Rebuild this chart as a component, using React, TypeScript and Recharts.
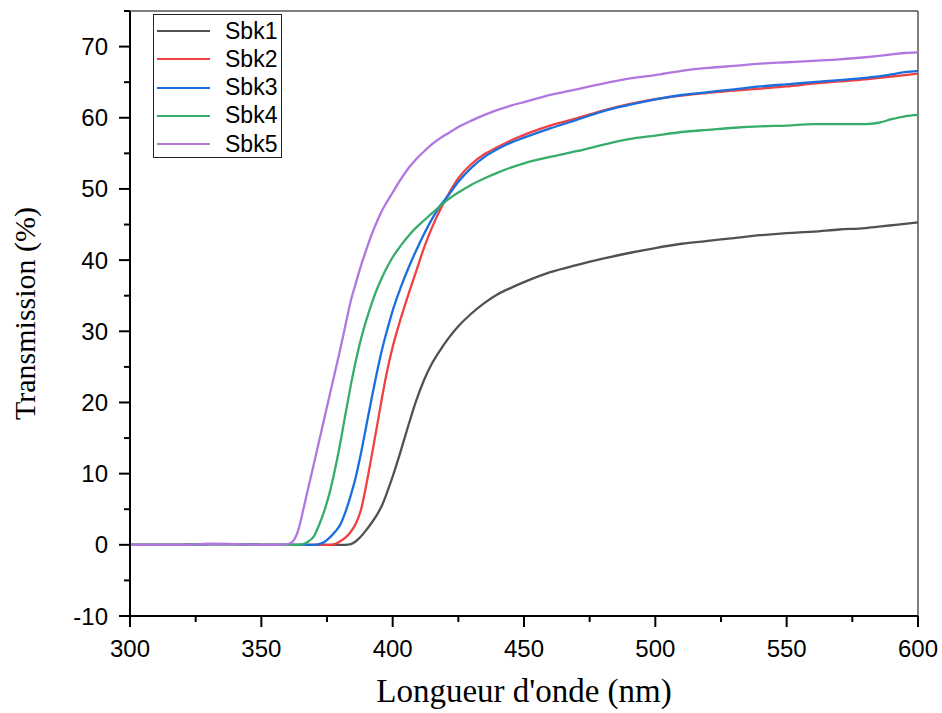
import React from 'react';
import { LineChart, Line, XAxis, YAxis, Legend, Label, ReferenceLine } from 'recharts';

// Wavelength grid (nm)
const wavelength = [
  300, 310, 320, 330, 340, 350, 355, 360, 362, 364, 366, 368, 370, 372, 374, 376, 378, 380,
  382, 384, 386, 388, 390, 392, 394, 396, 398, 400, 403, 406, 409, 412, 415, 418, 421, 425,
  430, 435, 440, 445, 450, 460, 470, 480, 490, 500, 510, 520, 530, 540, 550, 560, 570, 580,
  585, 590, 595, 600,
];

// Transmission (%) of each sample
const sbk1 = [
  0, 0, 0, 0.1, 0.1, 0, 0, 0, 0, 0, 0, 0, 0, 0, 0, 0, 0, 0,
  0, 0.1, 0.5, 1.2, 2.1, 3.1, 4.2, 5.6, 7.5, 9.6, 13.1, 16.8, 20.3, 23.2, 25.5, 27.3, 28.9, 30.7,
  32.5, 34.0, 35.2, 36.1, 36.9, 38.3, 39.3, 40.2, 41.0, 41.7, 42.3, 42.7, 43.1, 43.5, 43.8, 44.0, 44.3, 44.5,
  44.7, 44.9, 45.1, 45.3,
];
const sbk2 = [
  0, 0, 0, 0.1, 0.1, 0, 0, 0, 0, 0, 0, 0, 0, 0, 0, 0, 0.1, 0.5,
  1.0, 1.8, 3.0, 5.0, 8.5, 12.5, 16.6, 20.8, 24.6, 27.8, 31.7, 35.2, 38.5, 41.8, 44.6, 47.0, 49.1, 51.5,
  53.5, 54.9, 55.9, 56.8, 57.6, 58.9, 59.9, 61.0, 61.9, 62.6, 63.1, 63.5, 63.8, 64.1, 64.4, 64.8, 65.1, 65.4,
  65.6, 65.8, 66.0, 66.2,
];
const sbk3 = [
  0, 0, 0, 0.1, 0.1, 0, 0, 0, 0, 0, 0, 0, 0, 0.1, 0.4, 1.0, 1.8, 2.8,
  4.6, 6.9, 9.6, 13.0, 16.8, 20.6, 24.2, 27.5, 30.3, 32.9, 36.1, 38.9, 41.4, 43.7, 45.8, 47.6, 49.0, 51.0,
  53.0, 54.5, 55.6, 56.5, 57.2, 58.5, 59.7, 60.9, 61.8, 62.6, 63.2, 63.6, 64.0, 64.4, 64.7, 65.0, 65.3, 65.6,
  65.8, 66.1, 66.4, 66.6,
];
const sbk4 = [
  0, 0, 0, 0.1, 0.1, 0, 0, 0, 0, 0, 0.1, 0.5, 1.2, 2.8, 4.8, 7.3, 10.5, 14.2,
  18.3, 22.3, 25.9, 29.0, 31.6, 33.9, 35.9, 37.6, 39.1, 40.4, 42.0, 43.4, 44.6, 45.6, 46.6, 47.6, 48.5, 49.5,
  50.6, 51.5, 52.3, 53.0, 53.6, 54.5, 55.3, 56.2, 57.0, 57.5, 58.0, 58.3, 58.6, 58.8, 58.9, 59.1, 59.1, 59.1,
  59.3, 59.8, 60.2, 60.4,
];
const sbk5 = [
  0, 0, 0, 0.15, 0.1, 0, 0, 0.1, 0.5, 2.0, 5.0, 8.2, 11.4, 14.6, 17.8, 21.0, 24.2, 27.4,
  30.8, 34.2, 36.8, 39.3, 41.5, 43.6, 45.4, 47.0, 48.3, 49.5, 51.3, 52.9, 54.2, 55.3, 56.3, 57.1, 57.8, 58.7,
  59.6, 60.4, 61.1, 61.7, 62.2, 63.2, 64.0, 64.8, 65.5, 66.0, 66.6, 67.0, 67.3, 67.6, 67.8, 68.0, 68.2, 68.5,
  68.7, 68.9, 69.1, 69.2,
];

const seriesNames = ['Sbk1', 'Sbk2', 'Sbk3', 'Sbk4', 'Sbk5'];
const seriesValues = [sbk1, sbk2, sbk3, sbk4, sbk5];
const seriesColors = ['#515151', '#F14040', '#1A6FDF', '#37AD6B', '#B177DE'];

const xTicks = [300, 325, 350, 375, 400, 425, 450, 475, 500, 525, 550, 575, 600];
const yTicks = [-10, -5, 0, 5, 10, 15, 20, 25, 30, 35, 40, 45, 50, 55, 60, 65, 70, 75];

const data = wavelength.map((w, i) => {
  const row: Record<string, number> = { w };
  seriesNames.forEach((name, s) => {
    row[name] = seriesValues[s][i];
  });
  return row;
});

const SANS = '"Liberation Sans", Arial, sans-serif';
const SERIF = '"Liberation Serif", "Times New Roman", serif';

const XTick = (props: any) => {
  const { x, y, payload } = props;
  const major = payload.value % 50 === 0;
  return (
    <g>
      <line x1={x} y1={y} x2={x} y2={y + (major ? 11 : 6)} stroke="#000" strokeWidth={2} />
      {major && (
        <text x={x} y={y + 41} textAnchor="middle" fontFamily={SANS} fontSize={24} fill="#000">
          {payload.value}
        </text>
      )}
    </g>
  );
};

const YTick = (props: any) => {
  const { x, y, payload } = props;
  const major = payload.value % 10 === 0;
  return (
    <g>
      <line x1={x} y1={y} x2={x - (major ? 11 : 6)} y2={y} stroke="#000" strokeWidth={2} />
      {major && payload.value <= 70 && (
        <text x={x - 22} y={y + 8.5} textAnchor="end" fontFamily={SANS} fontSize={24} fill="#000">
          {payload.value}
        </text>
      )}
    </g>
  );
};

const LegendBox = (props: any) => {
  const { payload } = props;
  return (
    <div
      style={{
        width: 129,
        height: 144,
        boxSizing: 'border-box',
        border: '1.5px solid #222',
        background: '#fff',
        paddingTop: 2,
        fontFamily: SANS,
        fontSize: 23,
        color: '#000',
      }}
    >
      {(payload || []).map((entry: any) => (
        <div key={entry.value} style={{ display: 'flex', alignItems: 'center', height: 28.25 }}>
          <svg width={58} height={6} style={{ display: 'block' }}>
            <line x1={3} y1={3} x2={56} y2={3} stroke={entry.color} strokeWidth={2.2} />
          </svg>
          <span style={{ marginLeft: 13, lineHeight: 1 }}>{entry.value}</span>
        </div>
      ))}
    </div>
  );
};

export default function App() {
  return (
    <div style={{ position: 'absolute', left: 0, top: 0, background: '#fff' }}>
      <LineChart width={942} height={713} data={data} margin={{ top: 11, right: 24, bottom: 0, left: 0 }}>
        <XAxis
          dataKey="w"
          type="number"
          domain={[300, 600]}
          ticks={xTicks}
          interval={0}
          height={97}
          tickSize={0}
          tickMargin={0}
          tick={<XTick />}
          axisLine={{ stroke: '#000', strokeWidth: 2 }}
        >
          <Label
            content={(p: any) => (
              <text
                x={p.viewBox.x + p.viewBox.width / 2}
                y={p.viewBox.y + 86}
                textAnchor="middle"
                fontFamily={SERIF}
                fontSize={33}
                fill="#000"
              >
                Longueur d'onde (nm)
              </text>
            )}
          />
        </XAxis>
        <YAxis
          type="number"
          domain={[-10, 75]}
          ticks={yTicks}
          interval={0}
          width={130}
          tickSize={0}
          tickMargin={0}
          tick={<YTick />}
          axisLine={{ stroke: '#000', strokeWidth: 2 }}
        >
          <Label
            content={(p: any) => {
              const cx = 35;
              const cy = p.viewBox.y + p.viewBox.height / 2;
              return (
                <text
                  x={cx}
                  y={cy}
                  transform={`rotate(-90, ${cx}, ${cy})`}
                  textAnchor="middle"
                  fontFamily={SERIF}
                  fontSize={30}
                  fill="#000"
                >
                  Transmission (%)
                </text>
              );
            }}
          />
        </YAxis>
        <ReferenceLine y={75} stroke="#555" strokeWidth={1.5} />
        <ReferenceLine x={600} stroke="#555" strokeWidth={1.5} />
        <Legend
          layout="vertical"
          align="center"
          verticalAlign="middle"
          content={<LegendBox />}
          wrapperStyle={{ left: 153, top: 14, width: 'auto', height: 'auto' }}
        />
        {seriesNames.map((name, i) => (
          <Line
            key={name}
            dataKey={name}
            name={name}
            type="monotone"
            stroke={seriesColors[i]}
            strokeWidth={2.3}
            dot={false}
            isAnimationActive={false}
          />
        ))}
      </LineChart>
    </div>
  );
}
